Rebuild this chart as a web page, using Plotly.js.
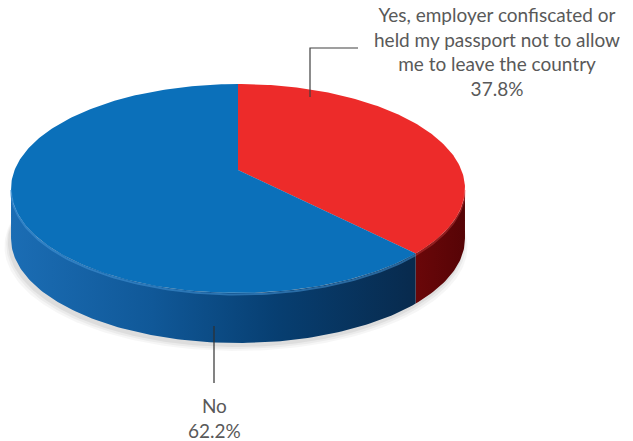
<!DOCTYPE html>
<html>
<head>
<meta charset="utf-8">
<script src="https://cdn.plot.ly/plotly-3.0.1.min.js"></script>
<style>html,body{margin:0;padding:0;background:#fff;}#chart{width:633px;height:441px;}</style>
</head>
<body>
<div id="chart"></div>
<script>
// ---- data ----
const labels = ['Yes, employer confiscated or held my passport not to allow me to leave the country', 'No'];
const labelLines = [['Yes, employer confiscated or', 'held my passport not to allow', 'me to leave the country'], ['No']];
const values = [37.8, 62.2];
const topColors = ['#ED2B2A', '#0B70BA'];
const sideScales = [
  [[0, '#6a0709'], [1, '#560406']],
  [[0, '#1b6db4'], [0.35, '#105898'], [0.65, '#073f72'], [1, '#082a4d']]
];

// ---- geometry (pixel space of the plot) ----
const CX = 238, CY = 170, RX = 223.4, RY = 101.2, PERSP = 0.177, DEPTH = 50;
const rad = d => d * Math.PI / 180;
function proj(deg, dy) {
  const u = Math.sin(rad(deg)), v = Math.cos(rad(deg));
  const k = 1 / (1 + PERSP * v);
  return [CX + RX * u * k, CY - RY * v * k + (dy || 0)];
}
function arc(a0, a1, dy) {
  const pts = [];
  const n = Math.max(2, Math.ceil(Math.abs(a1 - a0) / 1));
  for (let i = 0; i <= n; i++) pts.push(proj(a0 + (a1 - a0) * i / n, dy));
  return pts;
}
const total = values.reduce((a, b) => a + b, 0);
const bounds = [];
let acc = 0;
values.forEach(v => { const s = acc / total * 360; acc += v; bounds.push([s, acc / total * 360]); });

const silR = Math.acos(-PERSP) * 180 / Math.PI; // right silhouette
const silL = 360 - silR;                         // left silhouette

const traces = [];
// soft shadow
[[1.02, 8, 0.035], [1.012, 6, 0.045], [1.005, 4, 0.06]].forEach(([s, off, op]) => {
  const pts = arc(0, 360, DEPTH + off).map(([x, y]) => [CX - 2 + (x - CX) * s, y]);
  traces.push({type: 'scatter', mode: 'lines', x: pts.map(p => p[0]), y: pts.map(p => p[1]),
    fill: 'toself', fillcolor: 'rgba(0,0,0,' + op + ')', line: {width: 0}, hoverinfo: 'skip'});
});
// side walls
bounds.forEach(([s, e], i) => {
  const a0 = Math.max(s, silR), a1 = Math.min(e, silL);
  if (a1 <= a0) return;
  const top = arc(a0, a1, 0), bot = arc(a1, a0, DEPTH);
  const pts = top.concat(bot); pts.push(top[0]);
  traces.push({type: 'scatter', mode: 'lines', x: pts.map(p => p[0]), y: pts.map(p => p[1]),
    fill: 'toself', fillgradient: {type: 'horizontal', colorscale: sideScales[i]},
    line: {width: 0}, hoverinfo: 'skip', name: labels[i]});
});
// top faces
bounds.forEach(([s, e], i) => {
  const pts = [[CX, CY]].concat(arc(s, e, 0)); pts.push([CX, CY]);
  traces.push({type: 'scatter', mode: 'lines', x: pts.map(p => p[0]), y: pts.map(p => p[1]),
    fill: 'toself', fillcolor: topColors[i], line: {width: 0}, hoverinfo: 'skip', name: labels[i]});
});
// rim highlight on the front edge
bounds.forEach(([s, e], i) => {
  const a0 = Math.max(s, silR), a1 = Math.min(e, silL);
  if (a1 <= a0) return;
  const pts = arc(a0, a1, 1.5);
  traces.push({type: 'scatter', mode: 'lines', x: pts.map(p => p[0]), y: pts.map(p => p[1]),
    line: {width: 2, color: i === 1 ? 'rgba(70,150,215,0.55)' : 'rgba(255,90,90,0.3)'}, hoverinfo: 'skip'});
});

const pct = values.map(v => (v / total * 100).toFixed(1) + '%');
const font = {family: 'Lato, "Open Sans", sans-serif', size: 19, color: '#595959'};
const layout = {
  width: 633, height: 441, margin: {l: 0, r: 0, t: 0, b: 0},
  paper_bgcolor: '#fff', plot_bgcolor: '#fff', showlegend: false,
  xaxis: {range: [0, 633], visible: false, fixedrange: true},
  yaxis: {range: [441, 0], visible: false, fixedrange: true},
  annotations: [
    {x: 497, y: 51, xref: 'x', yref: 'y', showarrow: false, xanchor: 'center', yanchor: 'middle', align: 'center',
     text: labelLines[0].concat([pct[0]]).join('<br>'), font: font},
    {x: 214, y: 418, xref: 'x', yref: 'y', showarrow: false, xanchor: 'center', yanchor: 'middle', align: 'center',
     text: labelLines[1].concat([pct[1]]).join('<br>'), font: font}
  ],
  shapes: [
    {type: 'path', xref: 'x', yref: 'y', path: 'M310,97 L310,48 L358,48', line: {color: '#404040', width: 1.2}},
    {type: 'line', xref: 'x', yref: 'y', x0: 214, y0: 326, x1: 214, y1: 383, line: {color: '#303030', width: 1.2}}
  ]
};
Plotly.newPlot('chart', traces, layout, {displayModeBar: false, staticPlot: true});
</script>
</body>
</html>
